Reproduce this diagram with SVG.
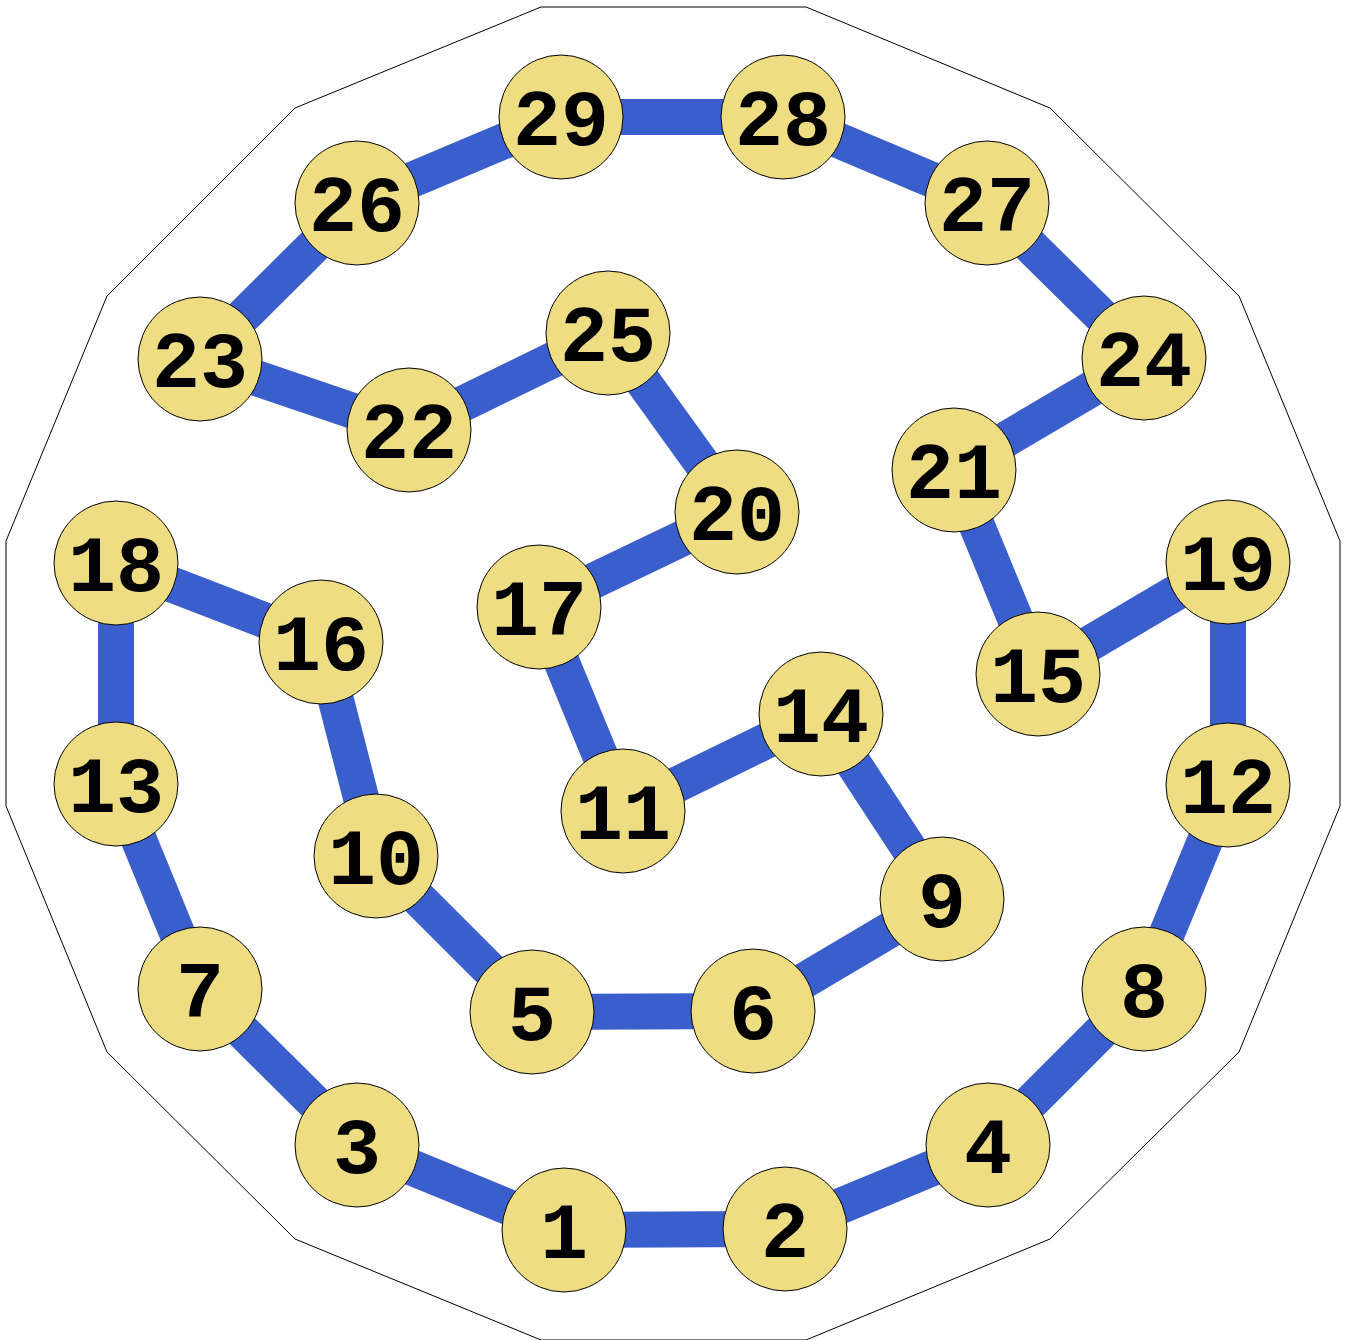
<svg xmlns="http://www.w3.org/2000/svg" width="1346" height="1340" viewBox="0 0 1346 1340">
<style>
.e{stroke:#3a5fcd;stroke-width:36;fill:none}
.n circle{fill:#eedd82;stroke:#000;stroke-width:1}
.n text{font-family:"Liberation Mono","Courier New",monospace;font-weight:bold;font-size:80px;text-anchor:middle;fill:#000}
</style>
<rect width="1346" height="1340" fill="#fff"/>
<polygon points="541,7 806,7 1050,108 1239,296 1340,541 1340,806 1239,1052 1050,1239 806,1340 541,1340 295,1239 107,1052 6,806 6,541 107,296 295,108" fill="none" stroke="#000" stroke-width="1"/>
<g id="edges">
<line class="e" x1="561" y1="117" x2="783" y2="117"/>
<line class="e" x1="783" y1="117" x2="987" y2="203"/>
<line class="e" x1="987" y1="203" x2="1144" y2="358"/>
<line class="e" x1="1144" y1="358" x2="954" y2="470"/>
<line class="e" x1="954" y1="470" x2="1038" y2="674"/>
<line class="e" x1="1038" y1="674" x2="1228" y2="562"/>
<line class="e" x1="1228" y1="562" x2="1228" y2="785"/>
<line class="e" x1="1228" y1="785" x2="1144" y2="989"/>
<line class="e" x1="1144" y1="989" x2="988" y2="1145"/>
<line class="e" x1="988" y1="1145" x2="785" y2="1229"/>
<line class="e" x1="785" y1="1229" x2="564" y2="1230"/>
<line class="e" x1="564" y1="1230" x2="357" y2="1145"/>
<line class="e" x1="357" y1="1145" x2="200" y2="989"/>
<line class="e" x1="200" y1="989" x2="116" y2="784"/>
<line class="e" x1="116" y1="784" x2="116" y2="563"/>
<line class="e" x1="116" y1="563" x2="321" y2="642"/>
<line class="e" x1="321" y1="642" x2="376" y2="856"/>
<line class="e" x1="376" y1="856" x2="532" y2="1012"/>
<line class="e" x1="532" y1="1012" x2="753" y2="1011"/>
<line class="e" x1="753" y1="1011" x2="942" y2="899"/>
<line class="e" x1="942" y1="899" x2="821" y2="714"/>
<line class="e" x1="821" y1="714" x2="623" y2="811"/>
<line class="e" x1="623" y1="811" x2="539" y2="607"/>
<line class="e" x1="539" y1="607" x2="737" y2="512"/>
<line class="e" x1="737" y1="512" x2="608" y2="333"/>
<line class="e" x1="608" y1="333" x2="409" y2="430"/>
<line class="e" x1="409" y1="430" x2="200" y2="359"/>
<line class="e" x1="200" y1="359" x2="357" y2="203"/>
<line class="e" x1="357" y1="203" x2="561" y2="117"/>
</g>
<g id="n1" class="n"><circle cx="564" cy="1230" r="62"/><text x="564" y="1258">1</text></g>
<g id="n2" class="n"><circle cx="785" cy="1229" r="62"/><text x="785" y="1257">2</text></g>
<g id="n3" class="n"><circle cx="357" cy="1145" r="62"/><text x="357" y="1173">3</text></g>
<g id="n4" class="n"><circle cx="988" cy="1145" r="62"/><text x="988" y="1173">4</text></g>
<g id="n5" class="n"><circle cx="532" cy="1012" r="62"/><text x="532" y="1040">5</text></g>
<g id="n6" class="n"><circle cx="753" cy="1011" r="62"/><text x="753" y="1039">6</text></g>
<g id="n7" class="n"><circle cx="200" cy="989" r="62"/><text x="200" y="1017">7</text></g>
<g id="n8" class="n"><circle cx="1144" cy="989" r="62"/><text x="1144" y="1017">8</text></g>
<g id="n9" class="n"><circle cx="942" cy="899" r="62"/><text x="942" y="927">9</text></g>
<g id="n10" class="n"><circle cx="376" cy="856" r="62"/><text x="376" y="884">10</text></g>
<g id="n11" class="n"><circle cx="623" cy="811" r="62"/><text x="623" y="839">11</text></g>
<g id="n12" class="n"><circle cx="1228" cy="785" r="62"/><text x="1228" y="813">12</text></g>
<g id="n13" class="n"><circle cx="116" cy="784" r="62"/><text x="116" y="812">13</text></g>
<g id="n14" class="n"><circle cx="821" cy="714" r="62"/><text x="821" y="742">14</text></g>
<g id="n15" class="n"><circle cx="1038" cy="674" r="62"/><text x="1038" y="702">15</text></g>
<g id="n16" class="n"><circle cx="321" cy="642" r="62"/><text x="321" y="670">16</text></g>
<g id="n17" class="n"><circle cx="539" cy="607" r="62"/><text x="539" y="635">17</text></g>
<g id="n18" class="n"><circle cx="116" cy="563" r="62"/><text x="116" y="591">18</text></g>
<g id="n19" class="n"><circle cx="1228" cy="562" r="62"/><text x="1228" y="590">19</text></g>
<g id="n20" class="n"><circle cx="737" cy="512" r="62"/><text x="737" y="540">20</text></g>
<g id="n21" class="n"><circle cx="954" cy="470" r="62"/><text x="954" y="498">21</text></g>
<g id="n22" class="n"><circle cx="409" cy="430" r="62"/><text x="409" y="458">22</text></g>
<g id="n23" class="n"><circle cx="200" cy="359" r="62"/><text x="200" y="387">23</text></g>
<g id="n24" class="n"><circle cx="1144" cy="358" r="62"/><text x="1144" y="386">24</text></g>
<g id="n25" class="n"><circle cx="608" cy="333" r="62"/><text x="608" y="361">25</text></g>
<g id="n26" class="n"><circle cx="357" cy="203" r="62"/><text x="357" y="231">26</text></g>
<g id="n27" class="n"><circle cx="987" cy="203" r="62"/><text x="987" y="231">27</text></g>
<g id="n28" class="n"><circle cx="783" cy="117" r="62"/><text x="783" y="145">28</text></g>
<g id="n29" class="n"><circle cx="561" cy="117" r="62"/><text x="561" y="145">29</text></g>
</svg>
